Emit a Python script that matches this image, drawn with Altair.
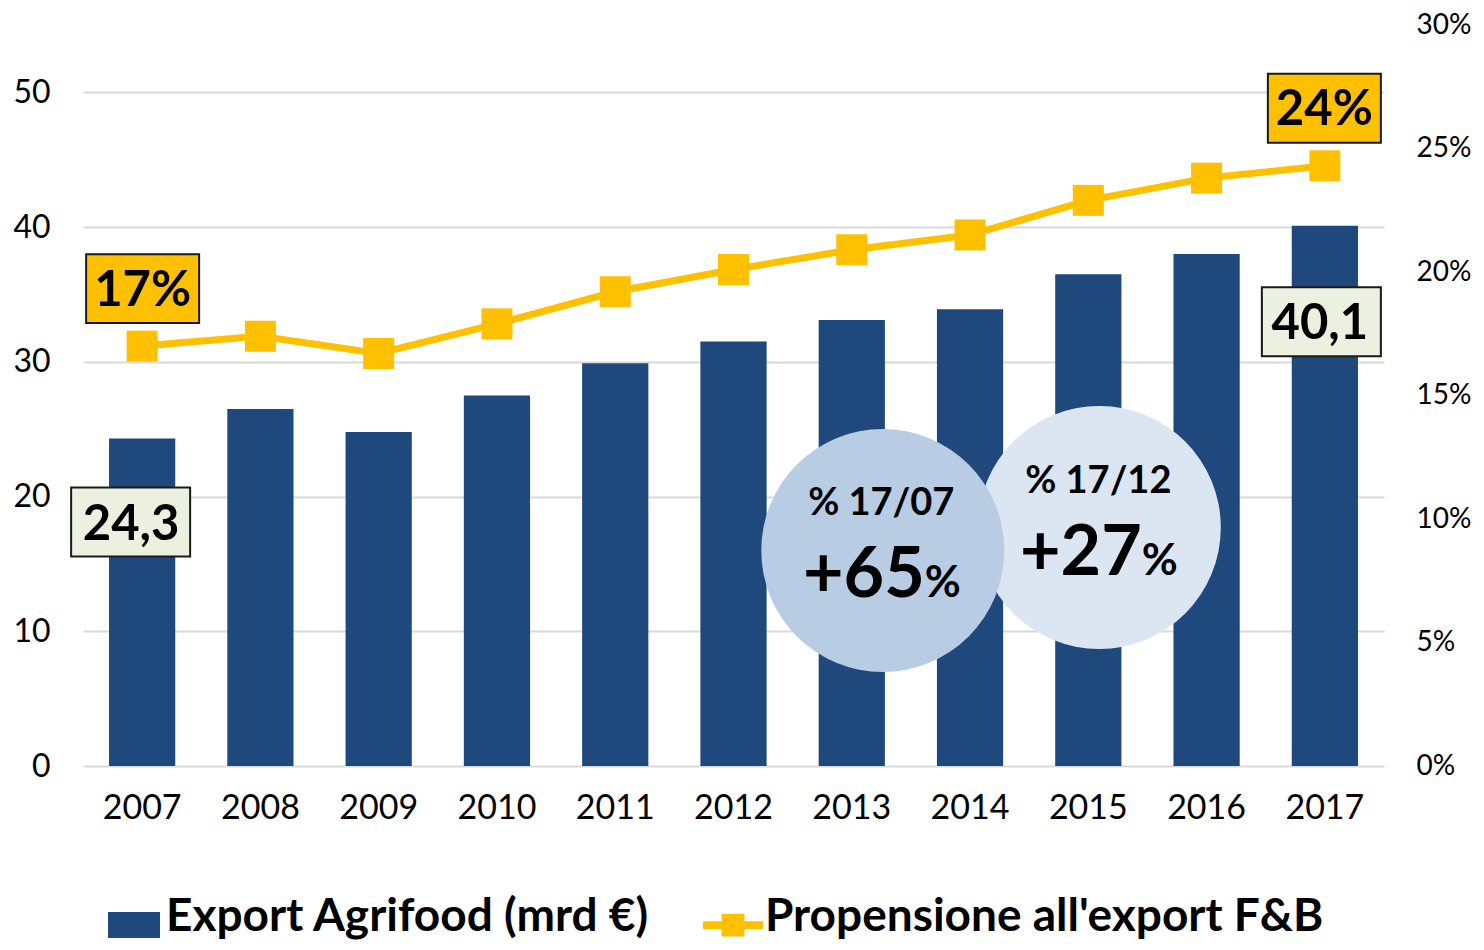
import altair as alt
import pandas as pd

# ---------------- data ----------------
years = ["2007", "2008", "2009", "2010", "2011", "2012", "2013", "2014", "2015", "2016", "2017"]
export_values = [24.3, 26.5, 24.8, 27.5, 29.9, 31.5, 33.1, 33.9, 36.5, 38.0, 40.1]
propensione = [17.0, 17.4, 16.7, 17.9, 19.2, 20.1, 20.9, 21.5, 22.9, 23.8, 24.3]
series_names = ["Export Agrifood (mrd €)", "Propensione all'export F&B"]
left_ticks = [0, 10, 20, 30, 40, 50]
right_ticks = [0, 5, 10, 15, 20, 25, 30]

bar_label_years = ["2007", "2017"]
bar_label_texts = ["24,3", "40,1"]
line_label_years = ["2007", "2017"]
line_label_texts = ["17%", "24%"]

circle_years = ["2013", "2015"]
circle_values = [16.0, 17.7]
circle_titles = ["% 17/07", "% 17/12"]
circle_growth = ["+65", "+27"]

# ---------------- styles ----------------
FONT = "Lato"
BLUE = "#1F497D"
GOLD = "#FFC000"
GRID = "#D9D9D9"

bar_df = pd.DataFrame({"year": years, "value": export_values, "series": series_names[0]})
line_df = pd.DataFrame({"year": years, "value": propensione, "series": series_names[1]})
circle_df = pd.DataFrame({"year": circle_years, "value": circle_values,
                          "title": circle_titles, "growth": circle_growth})

x_axis = alt.Axis(title=None, labelAngle=0, labelFont=FONT, labelFontSize=34, labelColor="black",
                  ticks=False, tickSize=0, domain=False, labelPadding=25, grid=False)
left_axis = alt.Axis(title=None, orient="left", values=left_ticks, grid=True, gridColor=GRID,
                     gridWidth=2, domain=False, ticks=False, tickSize=0, labelFont=FONT,
                     labelFontSize=32, labelColor="black", labelPadding=33)
right_axis = alt.Axis(title=None, orient="right", values=right_ticks, grid=False, domain=False,
                      ticks=False, tickSize=0, labelFont=FONT, labelFontSize=28, labelColor="black",
                      labelPadding=32, labelExpr="datum.value + '%'")


def X():
    return alt.X("year:O", scale=alt.Scale(paddingInner=0.44, paddingOuter=0.22), axis=x_axis)


def YL():
    return alt.Y("value:Q", scale=alt.Scale(domain=[0, 55], nice=False), axis=left_axis)


def YR():
    return alt.Y("value:Q", scale=alt.Scale(domain=[0, 30], nice=False), axis=right_axis)


legend1 = alt.Legend(title=None, orient="none", legendX=25, legendY=866,
                     symbolType="M-1,-0.19H1V0.81H-1Z", symbolSize=2704, symbolStrokeWidth=0,
                     labelFont=FONT, labelFontSize=46, labelFontWeight="bold", labelColor="black",
                     labelOffset=6, labelLimit=0, padding=0)
legend2 = alt.Legend(title=None, orient="none", legendX=620, legendY=862,
                     symbolType="M-1,0.14H1V0.40H-1Z M-0.38,-0.11H0.38V0.65H-0.38Z",
                     symbolSize=3600, symbolStrokeWidth=0,
                     labelFont=FONT, labelFontSize=46, labelFontWeight="bold", labelColor="black",
                     labelOffset=2, labelLimit=0, padding=0)

# ---------------- left (bars) ----------------
bars = alt.Chart(bar_df).mark_bar().encode(
    x=X(), y=YL(),
    fill=alt.Fill("series:N", scale=alt.Scale(domain=[series_names[0]], range=[BLUE]), legend=legend1),
)

left_layers = [bars]
bar_box_offsets = [(-11.5, 83.5, 119), (-3.5, 96, 119)]
bar_text_offsets = [(-11, 101), (-5, 113)]
for yr, txt, (bx, by, bw), (tx, ty) in zip(bar_label_years, bar_label_texts, bar_box_offsets, bar_text_offsets):
    d = bar_df[bar_df["year"] == yr].assign(label=txt)
    box = alt.Chart(d).mark_point(shape="M-1,-0.58H1V0.58H-1Z", size=bw * bw, filled=True,
                                  fill="#EBF1DE", stroke="#1A1A1A", strokeWidth=2, opacity=1,
                                  xOffset=bx, yOffset=by).encode(x=X(), y=YL())
    t = alt.Chart(d).mark_text(font=FONT, fontSize=49, fontWeight="bold", color="black",
                               baseline="alphabetic", align="center",
                               xOffset=tx, yOffset=ty).encode(x=X(), y=YL(), text="label:N")
    left_layers += [box, t]

circle_colors = ["#B8CCE4", "#DCE6F2"]
circle_xoff = [31, 11]
title_xoff = [29.5, 10]
growth_xoff = [73, 53.5]
circle_layers = []
text_layers = []
for i in range(len(circle_years)):
    d = circle_df.iloc[[i]]
    c = alt.Chart(d).mark_point(shape="circle", size=243 * 243, filled=True, fill=circle_colors[i],
                                opacity=1, strokeWidth=0, xOffset=circle_xoff[i]).encode(x=X(), y=YL())
    circle_layers.append(c)
    t1 = alt.Chart(d).mark_text(font=FONT, fontSize=38, fontWeight="bold", color="black",
                                baseline="alphabetic", align="center",
                                xOffset=title_xoff[i], yOffset=-35).encode(x=X(), y=YL(), text="title:N")
    t2 = alt.Chart(d).mark_text(font=FONT, fontSize=70, fontWeight="bold", color="black",
                                baseline="alphabetic", align="right",
                                xOffset=growth_xoff[i], yOffset=47).encode(x=X(), y=YL(), text="growth:N")
    t3 = alt.Chart(d).mark_text(font=FONT, fontSize=44, fontWeight="bold", color="black",
                                baseline="alphabetic", align="left",
                                xOffset=growth_xoff[i], yOffset=47).encode(x=X(), y=YL(), text=alt.value("%"))
    text_layers += [t1, t2, t3]

# light circle first, darker circle on top
left_layers += [circle_layers[1], circle_layers[0]] + text_layers
left = alt.layer(*left_layers)

# ---------------- right (line) ----------------
line = alt.Chart(line_df).mark_line(color=GOLD, strokeWidth=7).encode(x=X(), y=YR())
points = alt.Chart(line_df).mark_point(shape="square", filled=True, size=961, opacity=1).encode(
    x=X(), y=YR(),
    fill=alt.Fill("series:N", scale=alt.Scale(domain=[series_names[1]], range=[GOLD]), legend=legend2),
)
right_layers = [line, points]
line_box_offsets = [(0.5, -57.5), (-0.5, -57.5)]
for yr, txt, (bx, by) in zip(line_label_years, line_label_texts, line_box_offsets):
    d = line_df[line_df["year"] == yr].assign(label=txt)
    box = alt.Chart(d).mark_point(shape="M-1,-0.61H1V0.61H-1Z", size=113 * 113, filled=True,
                                  fill=GOLD, stroke="#1A1A1A", strokeWidth=2, opacity=1,
                                  xOffset=bx, yOffset=by).encode(x=X(), y=YR())
    t = alt.Chart(d).mark_text(font=FONT, fontSize=49, fontWeight="bold", color="black",
                               baseline="alphabetic", align="center",
                               xOffset=bx, yOffset=by + 17).encode(x=X(), y=YR(), text="label:N")
    right_layers += [box, t]
right = alt.layer(*right_layers)

chart = (
    alt.layer(left, right)
    .resolve_scale(y="independent", fill="independent")
    .resolve_legend(fill="independent")
    .properties(width=1301, height=741, autosize=alt.AutoSizeParams(type="none"),
                padding={"left": 75, "top": 17, "right": 92, "bottom": 176})
    .configure_view(stroke=None)
)

chart.save("out.html", embed_options={"renderer": "svg", "actions": False})
